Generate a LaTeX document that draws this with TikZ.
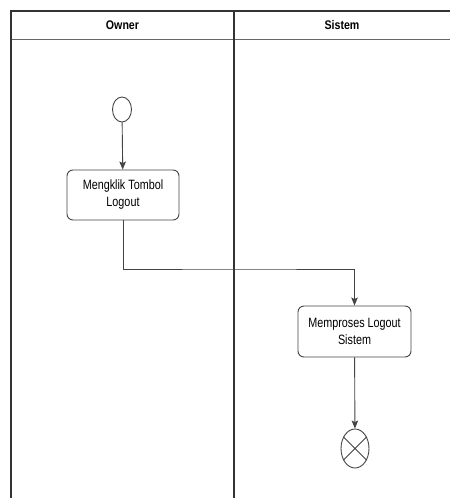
\documentclass[tikz,border=0pt]{standalone}
\usepackage{fontspec}
\setmainfont{Liberation Sans}
\newfontfamily\lanefont[FakeStretch=0.85]{Liberation Sans}
\newfontfamily\actfont[FakeStretch=0.8]{Liberation Sans}
\usetikzlibrary{arrows.meta,shapes.geometric}
\definecolor{poolline}{HTML}{333333}
\definecolor{flowline}{HTML}{444444}
\tikzset{
  poolborder/.style={draw=poolline,line width=1.5pt},
  headrule/.style={draw=gray!80!black,line width=1pt},
  lanetitle/.style={font=\lanefont\bfseries\fontsize{12.5}{14}\selectfont,inner sep=0pt},
  activity/.style={draw=flowline,line width=0.9pt,rounded corners=6pt,fill=white,
    align=center,font=\actfont\fontsize{13.5}{17}\selectfont,inner sep=0pt},
  startstate/.style={ellipse,draw=flowline,line width=0.9pt,fill=white,inner sep=0pt,
    minimum width=19pt,minimum height=25pt},
  endstate/.style={ellipse,draw=flowline,line width=0.9pt,fill=white,inner sep=0pt,
    minimum width=28pt,minimum height=39pt},
  flow/.style={draw=flowline,line width=0.9pt,-{Stealth[length=8pt,width=6.5pt,inset=1.5pt]}}
}
\begin{document}
\begin{tikzpicture}[x=1pt,y=-1pt]
\useasboundingbox (0,0) rectangle (450,498);
% swimlane pool
\draw[headrule] (11,39) -- (450,39);
\draw[poolborder] (450,11) -- (11,11) -- (11,498);
\draw[poolborder] (234,11) -- (234,498);
\node[lanetitle] (owner) at (122.5,25) {Owner};
\node[lanetitle] (sistem) at (342,25) {Sistem};
% activity nodes
\node[startstate] (start) at (122,109.5) {};
\node[activity,minimum width=112pt,minimum height=50pt] (klik) at (123,195)
  {Mengklik Tombol\\Logout};
\node[activity,minimum width=113pt,minimum height=51pt] (proses) at (354.5,331.5)
  {Memproses Logout\\Sistem};
\node[endstate] (end) at (355,448.5) {};
\draw[draw=flowline,line width=0.9pt] (end.45) -- (end.225) (end.135) -- (end.315);
% control flow
\coordinate (turn) at (240,269);
\draw[flow] (start) -- (klik);
\draw[flow] (klik.south) |- (turn) -| (proses.north);
\draw[flow] (proses) -- (end);
\end{tikzpicture}
\end{document}
